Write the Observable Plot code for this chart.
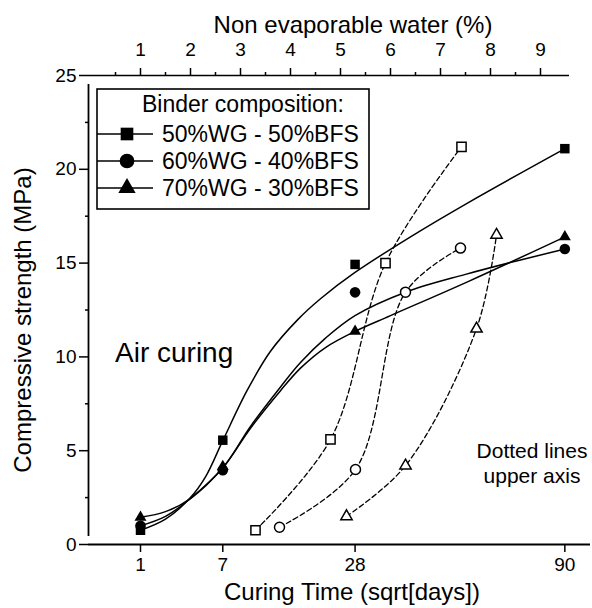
<!DOCTYPE html>
<html><head><meta charset="utf-8">
<script src="https://cdn.jsdelivr.net/npm/d3@7"></script>
<script src="https://cdn.jsdelivr.net/npm/@observablehq/plot@0.6"></script>
<style>body{margin:0;background:#fff} svg{display:block}</style>
</head><body><div id="chart"></div>
<script>
// ---- data ----
const seriesNames = ["50%WG - 50%BFS", "60%WG - 40%BFS", "70%WG - 30%BFS"];
const seriesSymbols = ["square", "circle", "triangle"];
// filled markers: curing time (days, lower axis)
const curingDays = [1, 7, 28, 90];
const strength50 = [0.76, 5.56, 14.93, 21.1];
const strength60 = [1.0, 3.96, 13.44, 15.75];
const strength70 = [1.45, 4.15, 11.36, 16.4];
// fitted solid curves (x in sqrt[days], y in MPa)
const fit50X = [1.0, 1.5, 2.0, 2.3, 2.65, 3.13, 3.6, 4.15, 4.6, 5.29, 6.4, 7.54, 9.49];
const fit50Y = [0.76, 1.35, 2.5, 3.6, 5.56, 8.2, 10.3, 12.0, 13.1, 14.5, 16.4, 18.2, 21.1];
const fit60X = [1.0, 1.5, 2.0, 2.65, 3.2, 3.8, 4.2, 4.7, 5.29, 6.3, 7.5, 8.5, 9.49];
const fit60Y = [1.0, 1.5, 2.45, 4.1, 6.3, 8.4, 9.7, 11.0, 12.2, 13.45, 14.4, 15.1, 15.75];
const fit70X = [1.0, 1.5, 2.0, 2.65, 3.2, 3.8, 4.2, 4.7, 5.29, 6.0, 7.54, 9.49];
const fit70Y = [1.45, 1.75, 2.45, 4.1, 6.2, 8.2, 9.4, 10.5, 11.36, 12.2, 14.0, 16.4];
// open markers, dashed lines: upper axis (non evaporable water %)
const water50 = [3.3, 4.8, 5.9, 7.42];
const waterStrength50 = [0.76, 5.6, 15.0, 21.2];
const water60 = [3.78, 5.3, 6.3, 7.4];
const waterStrength60 = [0.92, 4.0, 13.45, 15.8];
const water70 = [5.12, 6.3, 7.72, 8.12];
const waterStrength70 = [1.5, 4.2, 11.5, 16.5];
// ticks
const bottomTicks = [1, 7, 28, 90];
const topTicks = [1, 2, 3, 4, 5, 6, 7, 8, 9];
const topMinorTicks = [0.5, 1.5, 2.5, 3.5, 4.5, 5.5, 6.5, 7.5, 8.5];
const yTicks = [0, 5, 10, 15, 20, 25];
const yMinorTicks = [2.5, 7.5, 12.5, 17.5, 22.5];
const xDomain = [-0.04, 10.0];
const topAxisEnd = 9.58;

// ---- tables ----
const timeStrength = [strength50, strength60, strength70];
const fitX = [fit50X, fit60X, fit70X];
const fitY = [fit50Y, fit60Y, fit70Y];
const waterX = [water50, water60, water70];
const waterY = [waterStrength50, waterStrength60, waterStrength70];
const timeData = seriesNames.flatMap((s, i) => curingDays.map((d, j) => ({series: s, sym: seriesSymbols[i], x: Math.sqrt(d), y: timeStrength[i][j]})));
const fitData = seriesNames.flatMap((s, i) => fitX[i].map((x, j) => ({series: s, x, y: fitY[i][j]})));
const waterData = seriesNames.flatMap((s, i) => waterX[i].map((w, j) => ({series: s, sym: seriesSymbols[i], x: w, y: waterY[i][j]})));

const font = "'Liberation Sans', Arial, sans-serif";
const rBySym = {square: 5.35, circle: 5.3, triangle: 4.45};
const rOpen = {square: 5.2, circle: 5.0, triangle: 4.2};

const marks = [
  Plot.ruleY([0], {stroke: "black", strokeWidth: 1.8}),
  Plot.ruleX([xDomain[0]], {y1: 0, y2: 25, insetTop: -8, insetBottom: -9, stroke: "black", strokeWidth: 1.8}),
  Plot.ruleY([25], {x1: xDomain[0], x2: topAxisEnd, stroke: "black", strokeWidth: 1.5}),
  Plot.axisX({ticks: bottomTicks.map(Math.sqrt), anchor: "bottom", tickSize: 8, tickPadding: 5, strokeWidth: 1.5, fontSize: 19, tickFormat: d => String(Math.round(d * d)), label: null}),
  Plot.axisX({ticks: topTicks, anchor: "top", tickSize: 8, tickPadding: 12, strokeWidth: 1.5, fontSize: 19, tickFormat: d => String(d), label: null}),
  Plot.axisX({ticks: topMinorTicks, anchor: "top", tickSize: 4, strokeWidth: 1.5, tickFormat: () => "", label: null}),
  Plot.axisY({ticks: yTicks, anchor: "left", tickSize: 9, tickPadding: 3, strokeWidth: 1.5, fontSize: 19, tickFormat: d => String(d), label: null}),
  Plot.axisY({ticks: yMinorTicks, anchor: "left", tickSize: 3, strokeWidth: 1.5, tickFormat: () => "", label: null}),
  Plot.line(fitData, {x: "x", y: "y", z: "series", curve: "catmull-rom", stroke: "black", strokeWidth: 1.5}),
  Plot.line(waterData, {x: "x", y: "y", z: "series", curve: "catmull-rom", stroke: "black", strokeWidth: 1.3, strokeDasharray: "5,3"}),
];
for (const sym of seriesSymbols) {
  marks.push(Plot.dot(timeData.filter(d => d.sym === sym), {x: "x", y: "y", symbol: sym, r: rBySym[sym], fill: "black", stroke: "none"}));
  marks.push(Plot.dot(waterData.filter(d => d.sym === sym), {x: "x", y: "y", symbol: sym, r: rOpen[sym], fill: "white", stroke: "black", strokeWidth: 1.5}));
}

const chart = Plot.plot({
  width: 592, height: 608,
  marginLeft: 88, marginRight: 2, marginTop: 75, marginBottom: 64,
  style: {fontFamily: font, color: "black", background: "white", fontSize: "19px", overflow: "visible"},
  x: {domain: xDomain, axis: null},
  y: {domain: [0, 25], axis: null},
  marks
});
document.getElementById("chart").appendChild(chart);

// ---- titles, annotations, legend ----
const svg = d3.select(chart);
const g = svg.append("g").attr("font-family", font).attr("fill", "black").attr("text-anchor", "start");
g.append("text").attr("x", 353).attr("y", 33).attr("text-anchor", "middle").attr("font-size", 24).text("Non evaporable water (%)");
g.append("text").attr("x", 352).attr("y", 600).attr("text-anchor", "middle").attr("font-size", 24).text("Curing Time (sqrt[days])");
g.append("text").attr("transform", "translate(31,320) rotate(-90)").attr("text-anchor", "middle").attr("font-size", 24).text("Compressive strength (MPa)");
g.append("text").attr("x", 115).attr("y", 362).attr("text-anchor", "start").attr("font-size", 28).text("Air curing");
g.append("text").attr("x", 532).attr("y", 458).attr("text-anchor", "middle").attr("font-size", 21).text("Dotted lines");
g.append("text").attr("x", 532).attr("y", 483).attr("text-anchor", "middle").attr("font-size", 21).text("upper axis");

const lg = svg.append("g").attr("font-family", font).attr("text-anchor", "start");
lg.append("rect").attr("x", 97).attr("y", 89).attr("width", 272).attr("height", 120).attr("fill", "white").attr("stroke", "black").attr("stroke-width", 1.6);
lg.append("text").attr("x", 142).attr("y", 112).attr("text-anchor", "start").attr("font-size", 23).text("Binder composition:");
const legSym = {square: d3.symbolSquare, circle: d3.symbolCircle, triangle: d3.symbolTriangle};
const legSize = {square: 160, circle: 170, triangle: 130};
const rowY = [134, 161, 188];
seriesNames.forEach((name, i) => {
  const y = rowY[i];
  lg.append("line").attr("x1", 97).attr("x2", 153).attr("y1", y).attr("y2", y).attr("stroke", "black").attr("stroke-width", 1.5);
  lg.append("path").attr("transform", `translate(127,${y})`).attr("d", d3.symbol(legSym[seriesSymbols[i]], legSize[seriesSymbols[i]])()).attr("fill", "black");
  lg.append("text").attr("x", 162).attr("y", y + 8).attr("text-anchor", "start").attr("font-size", 23).text(name);
});
</script>
</body></html>
